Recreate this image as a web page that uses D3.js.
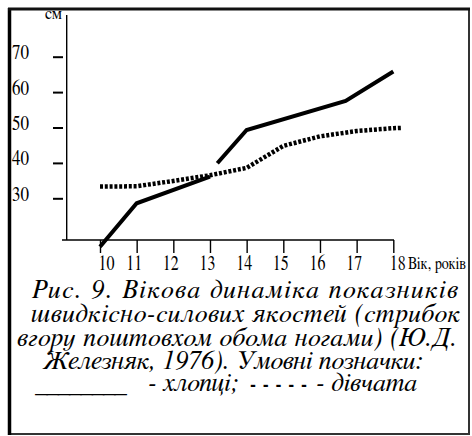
<!DOCTYPE html>
<html>
<head>
<meta charset="utf-8">
<script src="https://cdn.jsdelivr.net/npm/d3@7"></script>
<style>
  html, body { margin: 0; padding: 0; background: #fff; }
  svg { display: block; }
  svg text { font-family: "FreeSerif", "Liberation Serif", "Times New Roman", serif; }
</style>
</head>
<body>
<svg id="chart" width="472" height="436"></svg>
<script>
// ---- data ----
const ageTicks = [10, 11, 12, 13, 14, 15, 16, 17, 18];
const valueTicks = [30, 40, 50, 60, 70];
// boys (solid line); null marks the short break where the lines cross
const boysAges   = [10, 11, 13, 13.1, 13.2, 14, 16.7, 18];
const boysValues = [16.3, 28.6, 36.1, null, 39.9, 49.3, 57.5, 65.8];
// girls (dotted line)
const girlsAges   = [10, 11, 12, 13, 14, 15, 16, 17, 18, 18.25];
const girlsValues = [33.3, 33.4, 34.9, 36.5, 38.6, 44.8, 47.5, 49.0, 49.8, 49.9];
const yUnit = "см";
const xUnit = "Вік, років";
const captionLines = [
  "Рис. 9.  Вікова  динаміка  показників",
  "швидкісно-силових якостей (стрибок",
  "вгору поштовхом обома ногами) (Ю.Д.",
  "Железняк, 1976). Умовні позначки:"
];
const legendParts = ["________", "- хлопці;", "- - - - -", "- дівчата"];

// ---- drawing ----
const svg = d3.select("#chart");
const x = d3.scaleLinear().domain([10, 18]).range([100, 393.3]);
const y = d3.scaleLinear().domain([30, 70]).range([198.3, 56.7]);

// squeeze a text horizontally to a given width (keeps glyph height)
function squeeze(sel, px, py, w) {
  sel.each(function () {
    const nat = this.getComputedTextLength();
    d3.select(this).attr("x", 0).attr("y", 0)
      .attr("transform", `translate(${px},${py}) scale(${w / nat},1)`);
  });
}

// frame
svg.append("rect").attr("x", 9).attr("y", 9).attr("width", 460).attr("height", 425)
  .attr("fill", "none").attr("stroke", "#333").attr("stroke-width", 2);
svg.append("line").attr("x1", 9.5).attr("x2", 9.5).attr("y1", 8).attr("y2", 435)
  .attr("stroke", "#000").attr("stroke-width", 3.5);
svg.append("line").attr("x1", 8).attr("x2", 470).attr("y1", 9).attr("y2", 9)
  .attr("stroke", "#111").attr("stroke-width", 3);

// axes lines
svg.append("line").attr("x1", 66.7).attr("x2", 66.7).attr("y1", 15).attr("y2", 240)
  .attr("stroke", "#000").attr("stroke-width", 1.4);
svg.append("line").attr("x1", 62).attr("x2", 394).attr("y1", 240).attr("y2", 240)
  .attr("stroke", "#000").attr("stroke-width", 1.4);

// y ticks
const yAxis = svg.append("g").attr("transform", "translate(63,0)")
  .call(d3.axisLeft(y).tickValues(valueTicks).tickSize(10).tickSizeOuter(0));
yAxis.attr("font-family", null).attr("font-size", null);
yAxis.select(".domain").remove();
yAxis.selectAll(".tick line").attr("stroke", "#000").attr("stroke-width", 2);
yAxis.selectAll(".tick text")
  .attr("dy", null).attr("text-anchor", "start")
  .style("font-size", "22px").attr("fill", "#000")
  .text(d => d)
  .call(squeeze, -51, 2, 17);

// x ticks
const xAxis = svg.append("g").attr("transform", "translate(0,240)")
  .call(d3.axisBottom(x).tickValues(ageTicks).tickSize(13).tickSizeOuter(0));
xAxis.attr("font-family", null).attr("font-size", null);
xAxis.select(".domain").remove();
xAxis.selectAll(".tick line").attr("stroke", "#000").attr("stroke-width", 1.4);
xAxis.selectAll(".tick text")
  .attr("dy", null).attr("text-anchor", "middle")
  .style("font-size", "22px").attr("fill", "#000")
  .text(d => d)
  .each(function (d) {
    d3.select(this).call(squeeze, d === 10 ? 6 : d === 18 ? 4 : -3, 30, 16);
  });

// unit labels
svg.append("text").style("font-size", "17px").text(yUnit)
  .call(squeeze, 45, 18.5, 17);
svg.append("text").style("font-size", "17px").text(xUnit)
  .call(squeeze, 408, 269, 58);

// lines
const boys = boysAges.map((a, i) => ({a, v: boysValues[i]}));
const girls = girlsAges.map((a, i) => ({a, v: girlsValues[i]}));
const line = d3.line().defined(d => d.v !== null).x(d => x(d.a)).y(d => y(d.v));

svg.append("path").datum(girls).attr("d", line)
  .attr("fill", "none").attr("stroke", "#000").attr("stroke-width", 4.5)
  .attr("stroke-dasharray", "3,1.8");
svg.append("path").datum(boys).attr("d", line)
  .attr("fill", "none").attr("stroke", "#000").attr("stroke-width", 4)
  .attr("stroke-linejoin", "miter");

// caption: pick a font size so that line 2 fits its width naturally
const capLayout = [
  {x: 32, y: 298, w: 426},
  {x: 31, y: 322, w: 429},
  {x: 17, y: 345.5, w: 440},
  {x: 43, y: 368.5, w: null}
];
const probe = svg.append("text").style("font-style", "italic").style("font-size", "24px")
  .text(captionLines[1]);
const capSize = Math.min(26, 24 * 429 / probe.node().getComputedTextLength());
probe.remove();
captionLines.forEach((t, i) => {
  const tx = svg.append("text").attr("x", capLayout[i].x).attr("y", capLayout[i].y)
    .style("font-style", "italic").style("font-size", capSize + "px")
    .attr("fill", "#000")
    .text(t);
  if (capLayout[i].w) tx.attr("textLength", capLayout[i].w).attr("lengthAdjust", "spacing");
});
const legLayout = [
  {x: 35, y: 391, w: 92, bold: false, size: capSize},
  {x: 148, y: 391, w: null, bold: false, size: capSize},
  {x: 250, y: 389.5, w: 57, bold: true, size: 18},
  {x: 316, y: 391, w: null, bold: false, size: capSize}
];
legendParts.forEach((t, i) => {
  const L = legLayout[i];
  const tx = svg.append("text").attr("x", L.x).attr("y", L.y)
    .style("font-style", i === 2 ? "normal" : "italic")
    .style("font-weight", L.bold ? "bold" : "normal")
    .style("font-size", L.size + "px").attr("fill", "#000")
    .text(t);
  if (L.w) tx.attr("textLength", L.w).attr("lengthAdjust", "spacing");
});
</script>
</body>
</html>
